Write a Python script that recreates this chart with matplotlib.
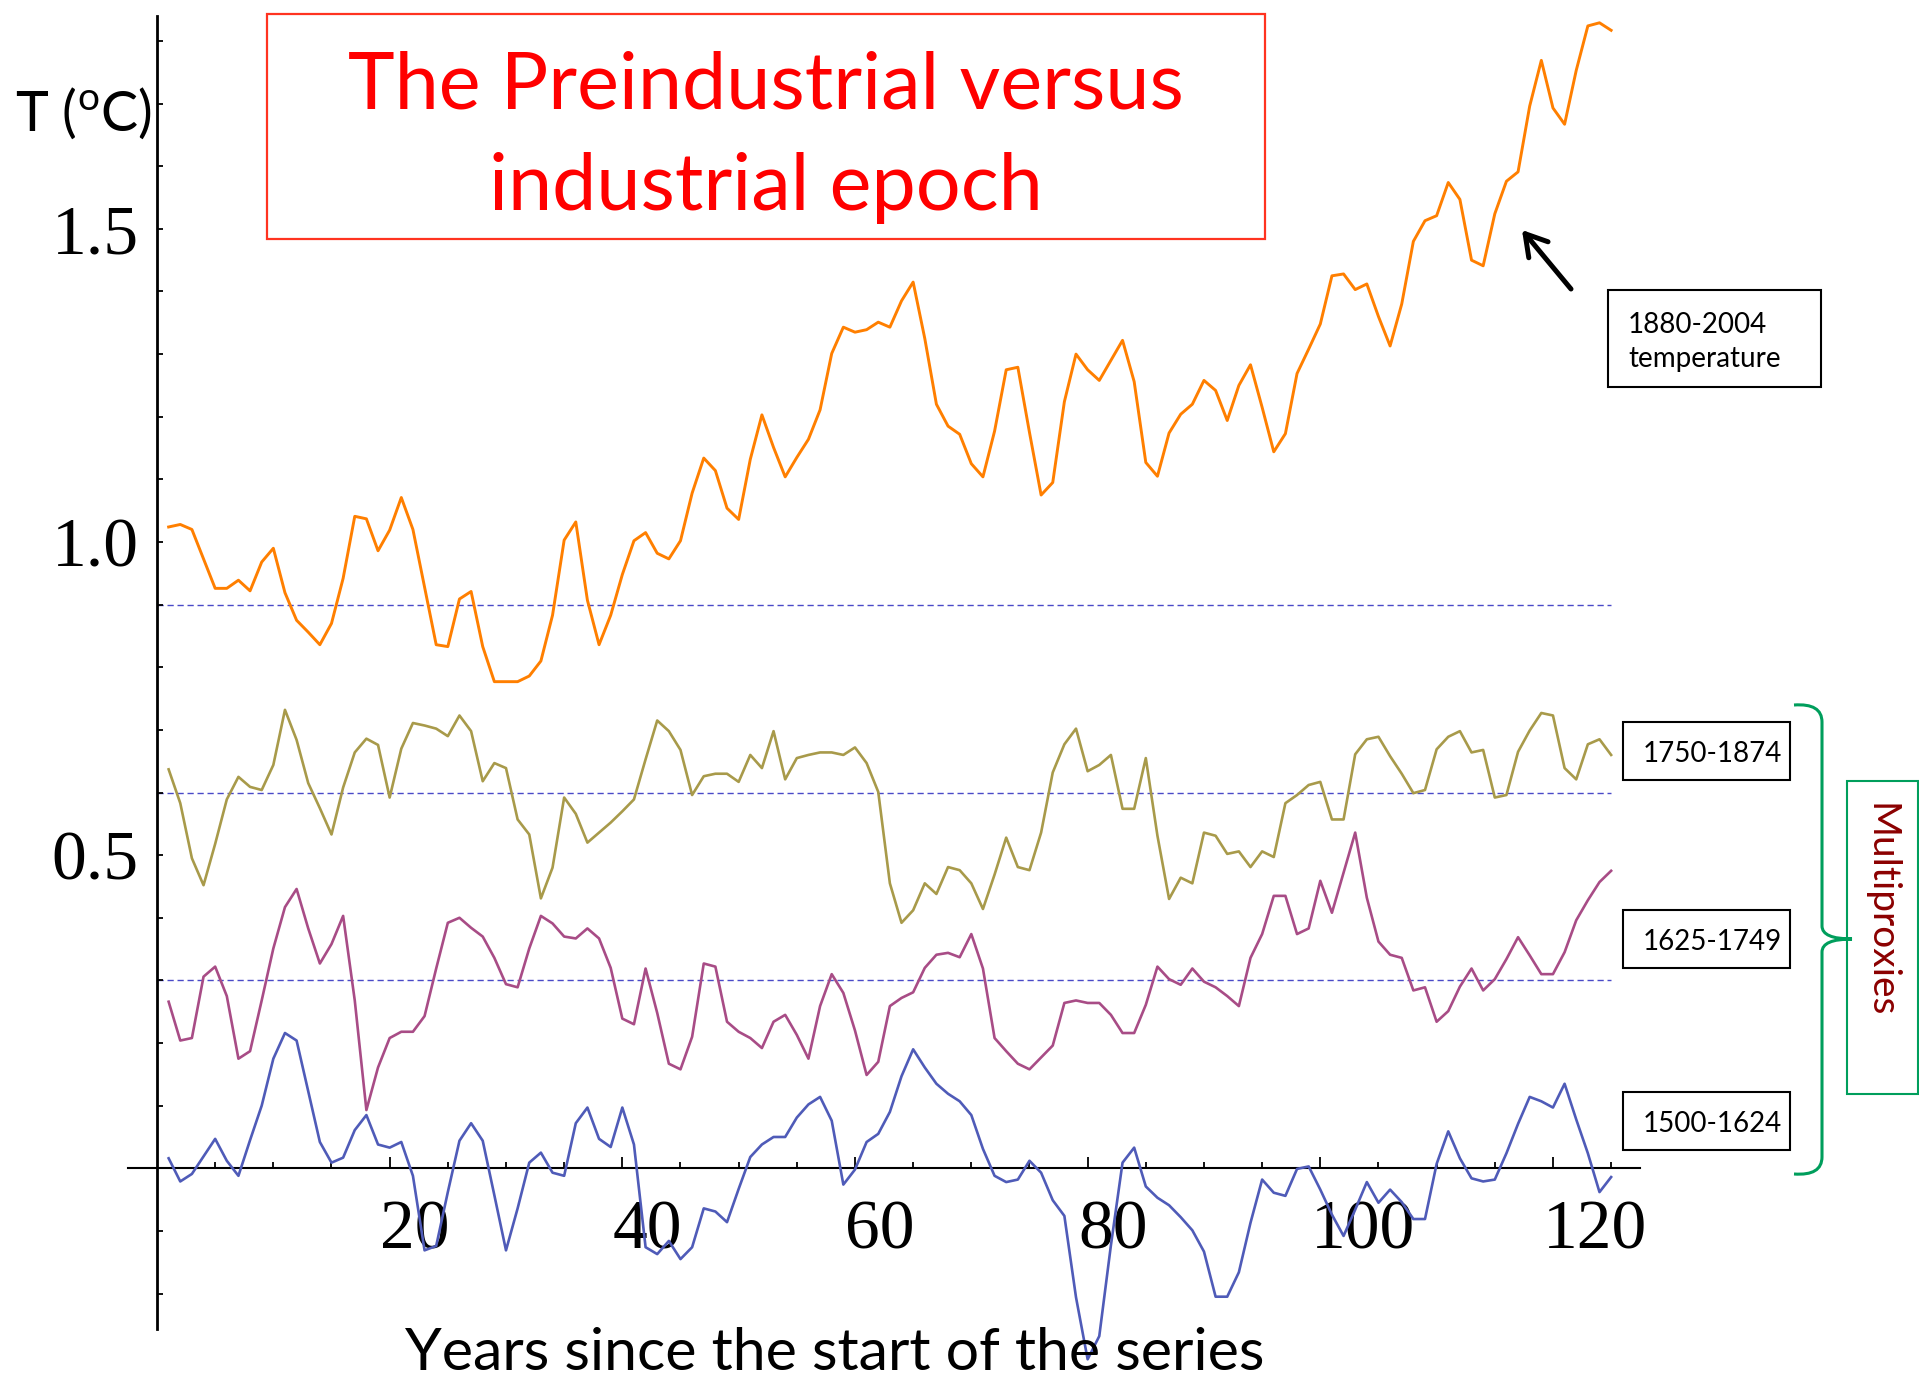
import matplotlib
matplotlib.use("Agg")
import matplotlib.pyplot as plt
import matplotlib.transforms as mtransforms
from matplotlib.patches import Rectangle, PathPatch
from matplotlib.path import Path
import numpy as np

# Values, one per year since the start of each series
years = np.arange(1, 126)

temp_1880_2004 = [
    1.024, 1.028, 1.020, 0.973, 0.926, 0.926, 0.939, 0.922, 0.968, 0.990,
    0.919, 0.875, 0.856, 0.836, 0.870, 0.942, 1.041, 1.037, 0.986, 1.019,
    1.071, 1.020, 0.928, 0.836, 0.833, 0.909, 0.921, 0.833, 0.777, 0.777,
    0.777, 0.786, 0.810, 0.883, 1.003, 1.032, 0.907, 0.836, 0.883, 0.948,
    1.002, 1.015, 0.982, 0.973, 1.002, 1.078, 1.134, 1.114, 1.054, 1.036,
    1.132, 1.203, 1.151, 1.104, 1.135, 1.164, 1.211, 1.301, 1.343, 1.335,
    1.339, 1.351, 1.343, 1.385, 1.415, 1.325, 1.220, 1.185, 1.172, 1.125,
    1.104, 1.177, 1.275, 1.279, 1.175, 1.075, 1.095, 1.224, 1.300, 1.275,
    1.258, 1.290, 1.322, 1.256, 1.127, 1.105, 1.174, 1.204, 1.220, 1.258,
    1.242, 1.194, 1.250, 1.283, 1.215, 1.144, 1.173, 1.269, 1.308, 1.348,
    1.425, 1.428, 1.403, 1.412, 1.360, 1.313, 1.380, 1.480, 1.513, 1.521,
    1.574, 1.547, 1.450, 1.441, 1.524, 1.576, 1.591, 1.696, 1.769, 1.693,
    1.667, 1.753, 1.824, 1.829, 1.817,
]

proxy_1750_1874 = [
    0.637, 0.583, 0.495, 0.452, 0.518, 0.589, 0.625, 0.609, 0.604, 0.644,
    0.732, 0.684, 0.615, 0.575, 0.533, 0.608, 0.664, 0.686, 0.676, 0.592,
    0.670, 0.711, 0.707, 0.702, 0.690, 0.723, 0.698, 0.618, 0.647, 0.639,
    0.557, 0.533, 0.431, 0.480, 0.592, 0.566, 0.520, 0.536, 0.552, 0.570,
    0.589, 0.653, 0.715, 0.698, 0.668, 0.596, 0.626, 0.630, 0.630, 0.617,
    0.660, 0.639, 0.698, 0.621, 0.655, 0.660, 0.664, 0.664, 0.660, 0.672,
    0.647, 0.601, 0.455, 0.392, 0.412, 0.455, 0.438, 0.481, 0.476, 0.455,
    0.414, 0.469, 0.528, 0.481, 0.476, 0.536, 0.632, 0.677, 0.702, 0.634,
    0.644, 0.660, 0.574, 0.574, 0.655, 0.531, 0.430, 0.464, 0.455, 0.536,
    0.531, 0.502, 0.506, 0.481, 0.506, 0.497, 0.583, 0.596, 0.612, 0.617,
    0.557, 0.557, 0.661, 0.685, 0.689, 0.658, 0.630, 0.599, 0.604, 0.669,
    0.689, 0.698, 0.664, 0.668, 0.592, 0.596, 0.665, 0.699, 0.727, 0.723,
    0.639, 0.621, 0.677, 0.685, 0.660,
]

proxy_1625_1749 = [
    0.266, 0.204, 0.208, 0.306, 0.322, 0.275, 0.175, 0.187, 0.268, 0.351,
    0.417, 0.446, 0.383, 0.327, 0.358, 0.403, 0.268, 0.093, 0.161, 0.208,
    0.218, 0.218, 0.243, 0.319, 0.392, 0.400, 0.384, 0.370, 0.336, 0.294,
    0.289, 0.351, 0.403, 0.391, 0.370, 0.367, 0.383, 0.367, 0.320, 0.239,
    0.230, 0.319, 0.248, 0.167, 0.158, 0.210, 0.327, 0.322, 0.234, 0.218,
    0.208, 0.192, 0.234, 0.245, 0.213, 0.175, 0.259, 0.310, 0.280, 0.220,
    0.149, 0.170, 0.259, 0.272, 0.281, 0.320, 0.341, 0.344, 0.337, 0.374,
    0.319, 0.208, 0.187, 0.167, 0.158, 0.177, 0.196, 0.264, 0.268, 0.264,
    0.264, 0.245, 0.216, 0.216, 0.261, 0.322, 0.302, 0.293, 0.319, 0.298,
    0.289, 0.275, 0.259, 0.336, 0.374, 0.435, 0.435, 0.374, 0.383, 0.459,
    0.408, 0.472, 0.536, 0.432, 0.362, 0.341, 0.336, 0.284, 0.289, 0.234,
    0.251, 0.290, 0.319, 0.284, 0.302, 0.334, 0.369, 0.340, 0.310, 0.310,
    0.345, 0.396, 0.428, 0.457, 0.475,
]

proxy_1500_1624 = [
    0.016, -0.021, -0.009, 0.019, 0.047, 0.012, -0.012, 0.045, 0.100, 0.175,
    0.216, 0.204, 0.123, 0.042, 0.009, 0.017, 0.061, 0.085, 0.038, 0.033,
    0.042, -0.012, -0.131, -0.124, -0.038, 0.044, 0.072, 0.044, -0.043, -0.131,
    -0.064, 0.009, 0.025, -0.007, -0.012, 0.072, 0.097, 0.047, 0.034, 0.097,
    0.038, -0.126, -0.137, -0.116, -0.145, -0.126, -0.064, -0.069, -0.086, -0.033,
    0.018, 0.038, 0.050, 0.050, 0.081, 0.102, 0.114, 0.076, -0.026, -0.002,
    0.042, 0.055, 0.090, 0.147, 0.190, 0.161, 0.135, 0.119, 0.107, 0.085,
    0.031, -0.012, -0.022, -0.018, 0.012, -0.007, -0.051, -0.076, -0.206, -0.305,
    -0.268, -0.123, 0.009, 0.033, -0.029, -0.047, -0.059, -0.078, -0.099, -0.133,
    -0.205, -0.205, -0.166, -0.087, -0.018, -0.039, -0.044, -0.001, 0.003, -0.034,
    -0.074, -0.108, -0.066, -0.022, -0.055, -0.034, -0.054, -0.081, -0.081, 0.007,
    0.059, 0.016, -0.016, -0.021, -0.018, 0.024, 0.071, 0.114, 0.107, 0.097,
    0.135, 0.078, 0.024, -0.038, -0.014,
]

reference_levels = [0.3, 0.6, 0.9]
x_tick_values = [20, 40, 60, 80, 100, 120]
y_tick_values = [0.5, 1.0, 1.5]
y_tick_labels = ["0.5", "1.0", "1.5"]
proxy_labels = ["1750-1874", "1625-1749", "1500-1624"]

# Figure geometry (pixels)
W, H, DPI = 1919, 1377, 100
X0_PX, X_SCALE = 157.0, 11.633    # column of x=0, pixels per year
Y0_PX, Y_SCALE = 1168.3, 626.3    # row of T=0, pixels per degree
XLIM = (-2.6, 127.6)
YLIM = (-0.32, 1.86)

plt.rcParams["mathtext.fontset"] = "custom"
plt.rcParams["mathtext.rm"] = "Lato"

fig = plt.figure(figsize=(W / DPI, H / DPI), dpi=DPI, facecolor="white")

left_px = X0_PX + XLIM[0] * X_SCALE
right_px = X0_PX + XLIM[1] * X_SCALE
bottom_px = Y0_PX - YLIM[0] * Y_SCALE
top_px = Y0_PX - YLIM[1] * Y_SCALE
ax = fig.add_axes([left_px / W, (H - bottom_px) / H,
                   (right_px - left_px) / W, (bottom_px - top_px) / H])
ax.set_xlim(*XLIM)
ax.set_ylim(*YLIM)

# Reference levels (dashed)
for level in reference_levels:
    ax.plot([0, 125], [level, level], color="#4a4ac8", lw=1.0,
            dashes=(4.5, 2.7), zorder=1)

# Series
ax.plot(years, temp_1880_2004, color="#ff7f00", lw=2.1, zorder=3)
ax.plot(years, proxy_1750_1874, color="#a89a4a", lw=1.9, zorder=3)
ax.plot(years, proxy_1625_1749, color="#a84c86", lw=1.9, zorder=3)
ax.plot(years, proxy_1500_1624, color="#4f5bb8", lw=1.9, zorder=3)

# Axes through the origin, Mathematica style
for side in ["top", "right"]:
    ax.spines[side].set_visible(False)
ax.spines["left"].set_position(("data", 0))
ax.spines["left"].set_bounds(-0.257, 1.84)
ax.spines["left"].set_linewidth(2.0)
ax.spines["bottom"].set_position(("data", 0))
ax.spines["bottom"].set_bounds(-2.45, 127.5)
ax.spines["bottom"].set_linewidth(1.5)
ax.patch.set_visible(False)

ax.set_xticks(x_tick_values)
ax.set_xticks([v for v in range(5, 126, 5) if v not in x_tick_values], minor=True)
ax.set_yticks(y_tick_values)
ax.set_yticklabels(y_tick_labels)
ax.set_yticks([round(v * 0.1, 1) for v in range(-2, 19)
               if v != 0 and round(v * 0.1, 1) not in y_tick_values], minor=True)

ax.tick_params(axis="x", which="major", direction="in", length=8, width=1.3,
               pad=23, labelsize=50)
ax.tick_params(axis="x", which="minor", direction="in", length=4.5, width=1.3)
ax.tick_params(axis="y", which="both", direction="in", length=4.5, width=1.3,
               pad=13, labelsize=50)
for lab in ax.get_xticklabels() + ax.get_yticklabels():
    lab.set_family("Liberation Serif")

shift = mtransforms.ScaledTranslation(-7 / 72, 0, fig.dpi_scale_trans)
for lab in ax.get_xticklabels():
    lab.set_horizontalalignment("left")
    lab.set_transform(lab.get_transform() + shift)

# Overlay in pixel coordinates for the annotations
ov = fig.add_axes([0, 0, 1, 1])
ov.set_xlim(0, W)
ov.set_ylim(H, 0)
ov.set_facecolor("none")
ov.axis("off")

# Title box
ov.add_patch(Rectangle((267, 13.5), 998, 225.5, fill=False,
                       edgecolor="#ff3320", lw=1.6))
ov.text(766, 137, "The Preindustrial versus\nindustrial epoch", ha="center",
        va="center", color="red", fontsize=57, family="Lato", linespacing=1.5)

# Axis labels
ov.text(15, 131, r"T ($^{\rm o}$C)", ha="left", va="baseline",
        fontsize=40, family="Lato")
ov.text(835, 1370, "Years since the start of the series", ha="center",
        va="baseline", fontsize=42.5, family="Lato")

# Instrumental record label and arrow
ov.add_patch(Rectangle((1608, 290), 213, 97, facecolor="white",
                       edgecolor="black", lw=1.5))
ov.text(1628, 342, "1880-2004\ntemperature", ha="left", va="center",
        fontsize=20, family="Lato", linespacing=1.38)
ov.annotate("", xy=(1522, 230), xytext=(1571, 289),
            arrowprops=dict(arrowstyle="->,head_length=0.5,head_width=0.3",
                            lw=3.6, color="black", mutation_scale=30,
                            shrinkA=0, shrinkB=0))

# Multiproxy period labels
box_tops = [721.7, 909.7, 1092]
for label, top in zip(proxy_labels, box_tops):
    ov.add_patch(Rectangle((1623, top), 166.5, 58.3, facecolor="white",
                           edgecolor="black", lw=1.5))
    ov.text(1712, top + 32, label, ha="center", va="center",
            fontsize=20, family="Lato")

# Curly brace grouping the proxies
brace = Path(
    [(1794, 705), (1822, 703), (1822, 722), (1822, 926),
     (1822, 939), (1852, 939), (1822, 939), (1822, 952),
     (1822, 1157), (1822, 1176), (1794, 1174)],
    [Path.MOVETO, Path.CURVE3, Path.CURVE3, Path.LINETO,
     Path.CURVE3, Path.CURVE3, Path.CURVE3, Path.CURVE3,
     Path.LINETO, Path.CURVE3, Path.CURVE3])
ov.add_patch(PathPatch(brace, fill=False, edgecolor="#009e5c", lw=2.2,
                       capstyle="butt"))

ov.add_patch(Rectangle((1847, 781), 71, 313, fill=False,
                       edgecolor="#009e5c", lw=1.5, clip_on=False))
ov.text(1880, 910, "Multiproxies", rotation=270, ha="center", va="center",
        color="#8b0000", fontsize=28, family="Lato")

fig.savefig("out.png", dpi=DPI, facecolor="white")
